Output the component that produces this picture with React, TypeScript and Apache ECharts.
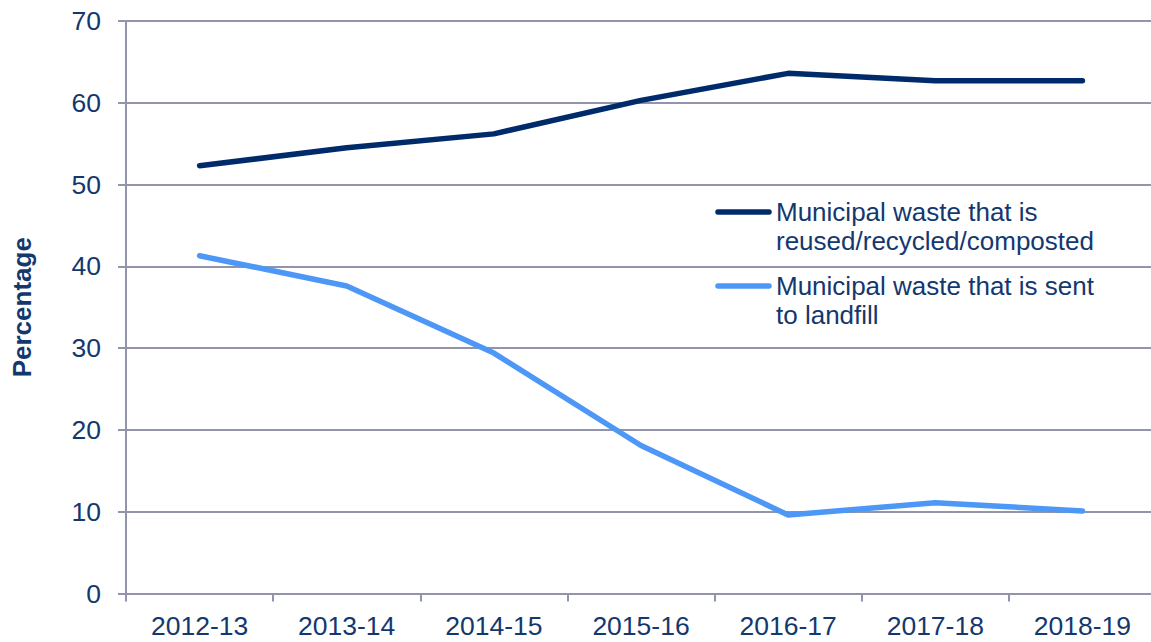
import React, { useEffect, useRef } from "react";
import * as echarts from "echarts";

const categories = ["2012-13", "2013-14", "2014-15", "2015-16", "2016-17", "2017-18", "2018-19"];
const recycled = [52.3, 54.5, 56.2, 60.3, 63.6, 62.7, 62.7];
const landfill = [41.3, 37.6, 29.4, 18.1, 9.6, 11.1, 10.1];
const seriesNames = [
  "Municipal waste that is\nreused/recycled/composted",
  "Municipal waste that is sent\nto landfill",
];
const seriesColors = ["#002b6b", "#4d97f7"];

const TEXT = "#13386e";
const GRID = "#9194aa";
const FONT = "Liberation Sans, Arial, sans-serif";

export default function App() {
  const ref = useRef<HTMLDivElement>(null);
  useEffect(() => {
    if (!ref.current) return;
    const chart = echarts.init(ref.current, null, { renderer: "svg" });
    const legendItems: any[] = [];
    const legendTops = [212, 286];
    seriesNames.forEach((n, i) => {
      legendItems.push({
        type: "line",
        shape: { x1: 718, y1: legendTops[i], x2: 769, y2: legendTops[i] },
        style: { stroke: seriesColors[i], lineWidth: 5.5, lineCap: "round" },
      });
      legendItems.push({
        type: "text",
        x: 776,
        y: legendTops[i] - 15,
        style: {
          text: n,
          fill: TEXT,
          font: `26px ${FONT}`,
          lineHeight: 29,
          textVerticalAlign: "top",
        },
      });
    });
    chart.setOption({
      animation: false,
      textStyle: { fontFamily: FONT },
      grid: { left: 126, right: 4, top: 21, bottom: 48.5, containLabel: false },
      xAxis: {
        type: "category",
        data: categories,
        boundaryGap: true,
        axisLine: { show: true, lineStyle: { color: GRID, width: 2 } },
        axisTick: { show: true, length: 8, lineStyle: { color: GRID, width: 2 } },
        axisLabel: { color: TEXT, fontSize: 26.5, margin: 19, fontFamily: FONT },
      },
      yAxis: {
        type: "value",
        min: 0,
        max: 70,
        interval: 10,
        name: "Percentage",
        nameLocation: "middle",
        nameGap: 91,
        nameRotate: 90,
        nameTextStyle: { color: TEXT, fontSize: 26, fontWeight: "bold", fontFamily: FONT },
        axisLine: { show: true, lineStyle: { color: GRID, width: 2 } },
        axisTick: { show: true, length: 8, lineStyle: { color: GRID, width: 2 } },
        axisLabel: { color: TEXT, fontSize: 26.5, margin: 25, fontFamily: FONT },
        splitLine: { show: true, lineStyle: { color: GRID, width: 2 } },
      },
      series: [
        {
          name: seriesNames[0],
          type: "line",
          data: recycled,
          symbol: "none",
          lineStyle: { color: seriesColors[0], width: 5.5, cap: "round", join: "round" },
        },
        {
          name: seriesNames[1],
          type: "line",
          data: landfill,
          symbol: "none",
          lineStyle: { color: seriesColors[1], width: 5.5, cap: "round", join: "round" },
        },
      ],
      graphic: legendItems,
    });
    return () => chart.dispose();
  }, []);
  return (
    <div style={{ position: "fixed", left: 0, top: 0, width: 1151, height: 642, overflow: "hidden", background: "#fff" }}>
      <div ref={ref} style={{ width: 1160, height: 642 }} />
    </div>
  );
}
